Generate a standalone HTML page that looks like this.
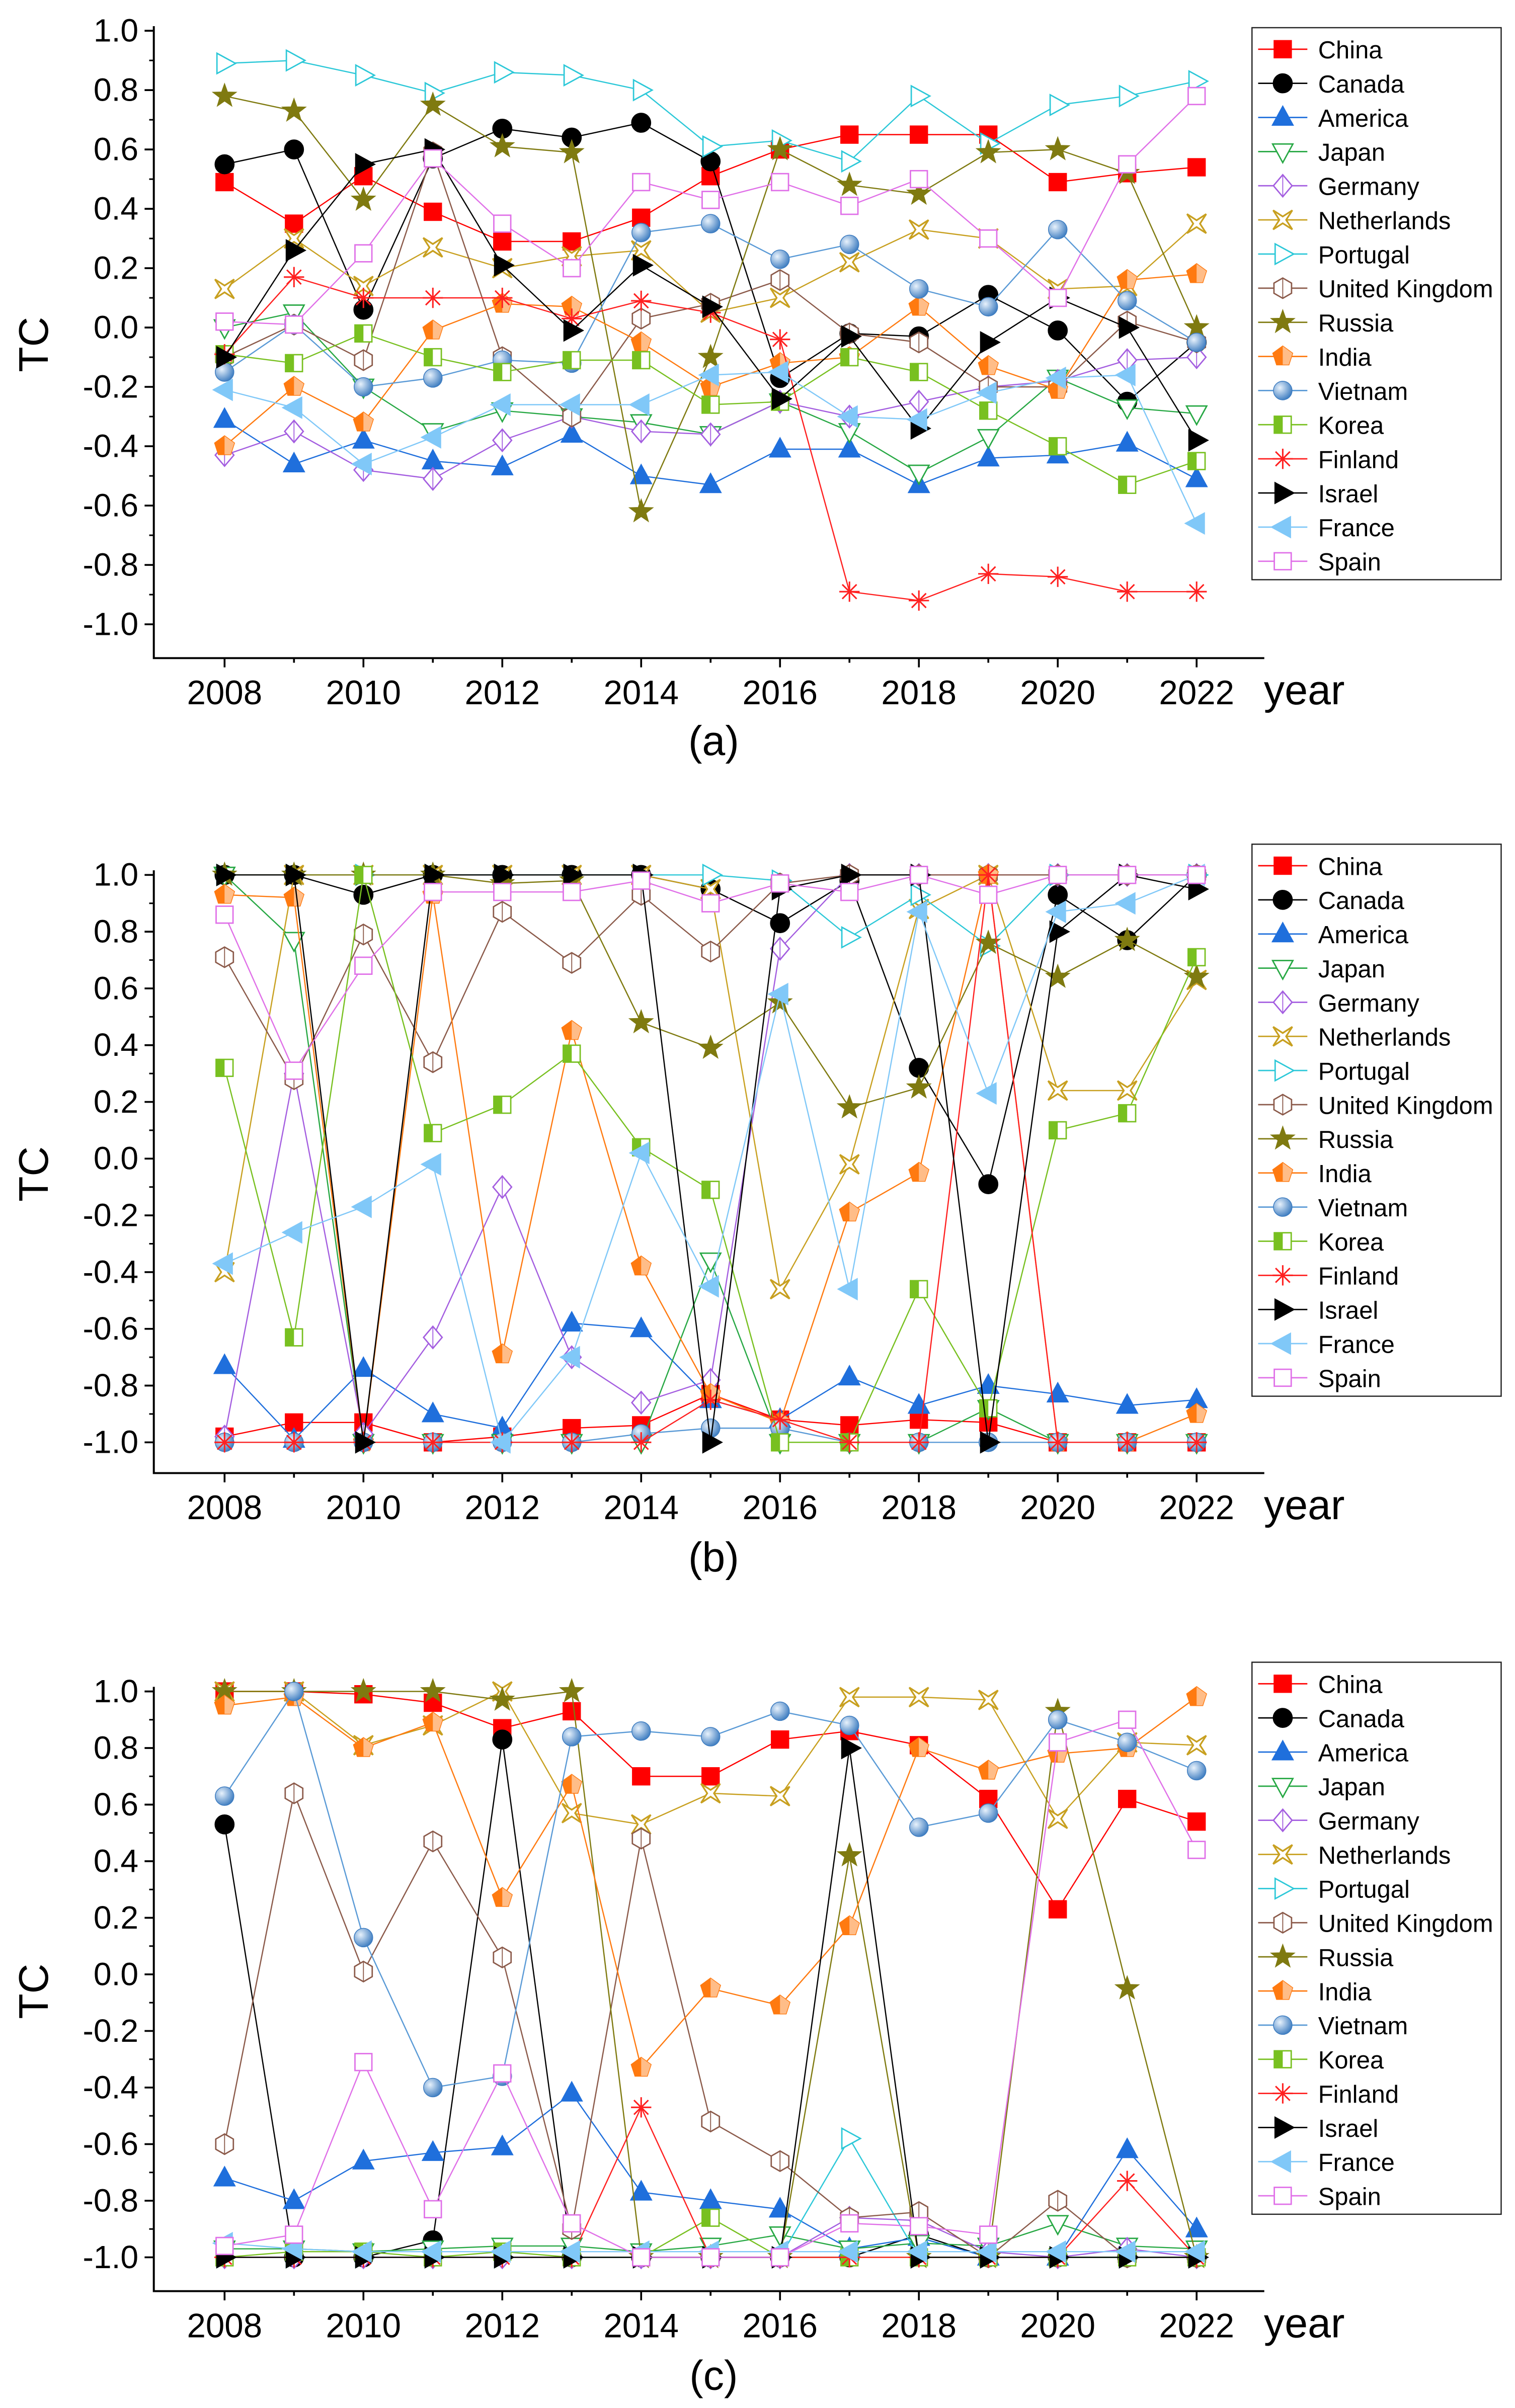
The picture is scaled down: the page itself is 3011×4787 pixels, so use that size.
<!DOCTYPE html>
<html><head><meta charset="utf-8">
<style>
html,body{margin:0;padding:0;background:#fff;}
svg{display:block;font-family:"Liberation Sans",Arial,sans-serif;}
</style></head>
<body>
<svg id="chart" width="3011" height="4787" viewBox="0 0 985 1566" xmlns="http://www.w3.org/2000/svg"></svg>
<script>
const years = [2008,2009,2010,2011,2012,2013,2014,2015,2016,2017,2018,2019,2020,2021,2022];
const seriesNames = ["China","Canada","America","Japan","Germany","Netherlands","Portugal","United Kingdom","Russia","India","Vietnam","Korea","Finland","Israel","France","Spain"];
const yTickLabels = ["1.0","0.8","0.6","0.4","0.2","0.0","-0.2","-0.4","-0.6","-0.8","-1.0"];
const xTickLabels = ["2008","2010","2012","2014","2016","2018","2020","2022"];

const panelA = {
China:[0.49,0.35,0.51,0.39,0.29,0.29,0.37,0.51,0.6,0.65,0.65,0.65,0.49,0.52,0.54],
Canada:[0.55,0.6,0.06,0.57,0.67,0.64,0.69,0.56,-0.17,-0.02,-0.03,0.11,-0.01,-0.25,-0.05],
America:[-0.31,-0.46,-0.38,-0.45,-0.47,-0.36,-0.5,-0.53,-0.41,-0.41,-0.53,-0.44,-0.43,-0.39,-0.51],
Japan:[0.0,0.05,-0.2,-0.35,-0.28,-0.3,-0.32,-0.36,-0.25,-0.35,-0.49,-0.37,-0.17,-0.27,-0.29],
Germany:[-0.43,-0.35,-0.48,-0.51,-0.38,-0.3,-0.35,-0.36,-0.25,-0.3,-0.25,-0.2,-0.18,-0.11,-0.1],
Netherlands:[0.13,0.3,0.14,0.27,0.2,0.24,0.26,0.05,0.1,0.22,0.33,0.3,0.13,0.14,0.35],
Portugal:[0.89,0.9,0.85,0.79,0.86,0.85,0.8,0.61,0.63,0.56,0.78,0.62,0.75,0.78,0.83],
"United Kingdom":[-0.1,0.01,-0.11,0.59,-0.1,-0.3,0.03,0.08,0.16,-0.02,-0.05,-0.2,-0.2,0.02,-0.05],
Russia:[0.78,0.73,0.43,0.75,0.61,0.59,-0.62,-0.1,0.6,0.48,0.45,0.59,0.6,0.52,0.0],
India:[-0.4,-0.2,-0.32,-0.01,0.08,0.07,-0.05,-0.2,-0.12,-0.1,0.07,-0.13,-0.21,0.16,0.18],
Vietnam:[-0.15,0.01,-0.2,-0.17,-0.11,-0.12,0.32,0.35,0.23,0.28,0.13,0.07,0.33,0.09,-0.05],
Korea:[-0.09,-0.12,-0.02,-0.1,-0.15,-0.11,-0.11,-0.26,-0.25,-0.1,-0.15,-0.28,-0.4,-0.53,-0.45],
Finland:[-0.09,0.17,0.1,0.1,0.1,0.03,0.09,0.05,-0.04,-0.89,-0.92,-0.83,-0.84,-0.89,-0.89],
Israel:[-0.1,0.26,0.55,0.6,0.21,-0.01,0.21,0.07,-0.24,-0.03,-0.34,-0.05,0.1,0.0,-0.38],
France:[-0.21,-0.27,-0.46,-0.37,-0.26,-0.26,-0.26,-0.16,-0.15,-0.3,-0.31,-0.22,-0.17,-0.16,-0.66],
Spain:[0.02,0.01,0.25,0.57,0.35,0.2,0.49,0.43,0.49,0.41,0.5,0.3,0.1,0.55,0.78]
};
const panelB = {
China:[-0.98,-0.93,-0.93,-1.0,-0.98,-0.95,-0.94,-0.83,-0.92,-0.94,-0.92,-0.93,-1.0,-1.0,-1.0],
Canada:[1.0,1.0,0.93,1.0,1.0,1.0,1.0,0.95,0.83,0.98,0.32,-0.09,0.93,0.77,1.0],
America:[-0.73,-0.99,-0.74,-0.9,-0.95,-0.58,-0.6,-0.85,-0.92,-0.77,-0.87,-0.8,-0.83,-0.87,-0.85],
Japan:[1.0,0.77,-1.0,-1.0,-1.0,-1.0,-1.0,-0.36,-1.0,-1.0,-1.0,-0.88,-1.0,-1.0,-1.0],
Germany:[-0.98,0.3,-0.97,-0.63,-0.1,-0.7,-0.86,-0.78,0.74,1.0,1.0,1.0,1.0,1.0,1.0],
Netherlands:[-0.4,1.0,1.0,1.0,1.0,1.0,1.0,0.95,-0.46,-0.02,0.88,1.0,0.24,0.24,0.63],
Portugal:[1.0,1.0,1.0,1.0,1.0,1.0,1.0,1.0,0.98,0.78,0.93,0.75,1.0,1.0,1.0],
"United Kingdom":[0.71,0.28,0.79,0.34,0.87,0.69,0.93,0.73,0.97,1.0,1.0,1.0,1.0,1.0,1.0],
Russia:[1.0,1.0,1.0,1.0,0.97,0.98,0.48,0.39,0.55,0.18,0.25,0.76,0.64,0.77,0.64],
India:[0.93,0.92,-1.0,0.93,-0.69,0.45,-0.38,-0.83,-0.93,-0.19,-0.05,1.0,-1.0,-1.0,-0.9],
Vietnam:[-1.0,-1.0,-1.0,-1.0,-1.0,-1.0,-0.97,-0.95,-0.95,-1.0,-1.0,-1.0,-1.0,-1.0,-1.0],
Korea:[0.32,-0.63,1.0,0.09,0.19,0.37,0.04,-0.11,-1.0,-1.0,-0.46,-0.88,0.1,0.16,0.71],
Finland:[-1.0,-1.0,-1.0,-1.0,-1.0,-1.0,-1.0,-0.85,-0.92,-1.0,-1.0,1.0,-1.0,-1.0,-1.0],
Israel:[1.0,1.0,-1.0,1.0,1.0,1.0,1.0,-1.0,0.95,1.0,1.0,-1.0,0.8,1.0,0.95],
France:[-0.37,-0.26,-0.17,-0.02,-1.0,-0.7,0.02,-0.45,0.58,-0.46,0.87,0.23,0.87,0.9,1.0],
Spain:[0.86,0.31,0.68,0.94,0.94,0.94,0.98,0.9,0.97,0.94,1.0,0.93,1.0,1.0,1.0]
};
const panelC = {
China:[1.0,1.0,0.99,0.96,0.87,0.93,0.7,0.7,0.83,0.86,0.81,0.62,0.23,0.62,0.54],
Canada:[0.53,-1.0,-1.0,-0.94,0.83,-1.0,-1.0,-1.0,-1.0,-1.0,-0.92,-1.0,-1.0,-1.0,-1.0],
America:[-0.72,-0.8,-0.66,-0.63,-0.61,-0.42,-0.77,-0.8,-0.83,-0.97,-0.93,-1.0,-1.0,-0.62,-0.9],
Japan:[-0.97,-0.97,-0.98,-0.97,-0.96,-0.96,-0.98,-0.96,-0.92,-0.97,-0.95,-0.96,-0.88,-0.96,-0.97],
Germany:[-1.0,-1.0,-1.0,-1.0,-1.0,-1.0,-1.0,-1.0,-1.0,-0.86,-0.87,-0.98,-1.0,-0.97,-1.0],
Netherlands:[1.0,1.0,0.81,0.88,1.0,0.57,0.53,0.64,0.63,0.98,0.98,0.97,0.55,0.82,0.81],
Portugal:[-1.0,-1.0,-1.0,-1.0,-1.0,-1.0,-1.0,-1.0,-1.0,-0.58,-1.0,-1.0,-1.0,-1.0,-1.0],
"United Kingdom":[-0.6,0.64,0.01,0.47,0.06,-0.9,0.48,-0.52,-0.66,-0.86,-0.84,-1.0,-0.8,-1.0,-1.0],
Russia:[1.0,1.0,1.0,1.0,0.97,1.0,-1.0,-1.0,-1.0,0.42,-1.0,-1.0,0.93,-0.05,-1.0],
India:[0.95,0.98,0.8,0.89,0.27,0.67,-0.33,-0.05,-0.11,0.17,0.8,0.72,0.78,0.8,0.98],
Vietnam:[0.63,1.0,0.13,-0.4,-0.36,0.84,0.86,0.84,0.93,0.88,0.52,0.57,0.9,0.82,0.72],
Korea:[-1.0,-0.98,-0.98,-1.0,-0.98,-1.0,-1.0,-0.86,-1.0,-1.0,-1.0,-1.0,-1.0,-1.0,-1.0],
Finland:[-1.0,-1.0,-1.0,-1.0,-1.0,-1.0,-0.47,-1.0,-1.0,-1.0,-1.0,-1.0,-1.0,-0.73,-1.0],
Israel:[-1.0,-1.0,-1.0,-1.0,-1.0,-1.0,-1.0,-1.0,-1.0,0.8,-1.0,-1.0,-1.0,-1.0,-1.0],
France:[-0.95,-0.97,-0.98,-0.98,-0.98,-0.98,-0.98,-0.98,-0.98,-0.98,-0.98,-0.98,-0.98,-0.98,-0.98],
Spain:[-0.96,-0.92,-0.31,-0.83,-0.35,-0.88,-1.0,-1.0,-1.0,-0.88,-0.89,-0.92,0.82,0.9,0.44]
};

const styles = {
China:{c:"#ff0000",m:"square",f:true},
Canada:{c:"#000000",m:"circle",f:true},
America:{c:"#1f6fdc",m:"tri",f:true},
Japan:{c:"#27a844",m:"tridown",f:false},
Germany:{c:"#a45ee0",m:"diamond",f:false},
Netherlands:{c:"#c8a020",m:"xstar",f:false},
Portugal:{c:"#2cc8d8",m:"triright",f:false},
"United Kingdom":{c:"#8b5a4a",m:"hex",f:false},
Russia:{c:"#7f7a10",m:"star",f:true},
India:{c:"#ff7a10",m:"pent",f:true},
Vietnam:{c:"#5a9ad6",m:"sphere",f:true},
Korea:{c:"#78c020",m:"halfsq",f:true},
Finland:{c:"#ff2020",m:"asterisk",f:false},
Israel:{c:"#000000",m:"triright",f:true},
France:{c:"#80c8f8",m:"trileft",f:true},
Spain:{c:"#e070e8",m:"square",f:false}
};

const NS="http://www.w3.org/2000/svg";
const svg=document.getElementById("chart");
function mk(tag,attrs,parent){const e=document.createElementNS(NS,tag);for(const k in attrs)e.setAttribute(k,attrs[k]);(parent||svg).appendChild(e);return e;}

const defs=mk("defs",{});
const rg=mk("radialGradient",{id:"sph",cx:"0.35",cy:"0.35",r:"0.7"},defs);
mk("stop",{offset:"0","stop-color":"#e8f2fc"},rg);
mk("stop",{offset:"1","stop-color":"#3d7cc0"},rg);

function marker(g,type,x,y,c,filled,s){
  const fill=filled?c:"#fff";
  const sw=0.9;
  let e;
  if(type==="square"){e=mk("rect",{x:x-s,y:y-s,width:2*s,height:2*s,fill:fill,stroke:c,"stroke-width":sw},g);}
  else if(type==="circle"){e=mk("circle",{cx:x,cy:y,r:s*1.1,fill:fill,stroke:c,"stroke-width":sw},g);}
  else if(type==="sphere"){e=mk("circle",{cx:x,cy:y,r:s*1.1,fill:"url(#sph)",stroke:"#3d7cc0","stroke-width":0.5},g);}
  else if(type==="tri"){e=mk("polygon",{points:`${x},${y-s*1.3} ${x+s*1.2},${y+s*0.9} ${x-s*1.2},${y+s*0.9}`,fill:fill,stroke:c,"stroke-width":sw},g);}
  else if(type==="tridown"){e=mk("polygon",{points:`${x},${y+s*1.3} ${x+s*1.2},${y-s*0.9} ${x-s*1.2},${y-s*0.9}`,fill:fill,stroke:c,"stroke-width":sw},g);}
  else if(type==="triright"){e=mk("polygon",{points:`${x+s*1.3},${y} ${x-s*0.9},${y-s*1.2} ${x-s*0.9},${y+s*1.2}`,fill:fill,stroke:c,"stroke-width":sw},g);}
  else if(type==="trileft"){e=mk("polygon",{points:`${x-s*1.3},${y} ${x+s*0.9},${y-s*1.2} ${x+s*0.9},${y+s*1.2}`,fill:fill,stroke:c,"stroke-width":sw},g);}
  else if(type==="diamond"){e=mk("polygon",{points:`${x},${y-s*1.3} ${x+s*1.1},${y} ${x},${y+s*1.3} ${x-s*1.1},${y}`,fill:fill,stroke:c,"stroke-width":sw},g);
    mk("line",{x1:x,y1:y-s*1.3,x2:x,y2:y+s*1.3,stroke:c,"stroke-width":0.6},g);}
  else if(type==="hex"){let p=[];for(let i=0;i<6;i++){const a=Math.PI/2+i*Math.PI/3;p.push((x+s*1.2*Math.cos(a))+","+(y-s*1.2*Math.sin(a)));}
    e=mk("polygon",{points:p.join(" "),fill:fill,stroke:c,"stroke-width":sw},g);
    mk("line",{x1:x,y1:y-s*1.2,x2:x,y2:y+s*1.2,stroke:c,"stroke-width":0.6},g);}
  else if(type==="pent"){let p=[];for(let i=0;i<5;i++){const a=Math.PI/2+i*2*Math.PI/5;p.push((x+s*1.2*Math.cos(a))+","+(y-s*1.2*Math.sin(a)));}
    e=mk("polygon",{points:p.join(" "),fill:fill,stroke:c,"stroke-width":sw},g);
    mk("polygon",{points:`${x},${y-s*1.2} ${x+s*1.14},${y-s*0.37} ${x+s*0.7},${y+s*0.97} ${x},${y+s*0.97}`,fill:"#fff",stroke:"none",opacity:0.5},g);}
  else if(type==="star"){let p=[];for(let i=0;i<10;i++){const r=i%2?s*0.55:s*1.35;const a=Math.PI/2+i*Math.PI/5;p.push((x+r*Math.cos(a))+","+(y-r*Math.sin(a)));}
    e=mk("polygon",{points:p.join(" "),fill:fill,stroke:c,"stroke-width":sw},g);}
  else if(type==="xstar"){let p=[];for(let i=0;i<8;i++){const r=i%2?s*0.4:s*1.6;const a=Math.PI/4+i*Math.PI/4;p.push((x+r*Math.cos(a))+","+(y-r*Math.sin(a)));}
    e=mk("polygon",{points:p.join(" "),fill:"#fff",stroke:c,"stroke-width":1.1},g);}
  else if(type==="halfsq"){e=mk("rect",{x:x-s,y:y-s,width:2*s,height:2*s,fill:"#fff",stroke:c,"stroke-width":sw},g);
    mk("rect",{x:x-s,y:y-s,width:s,height:2*s,fill:c},g);}
  else if(type==="asterisk"){for(let i=0;i<4;i++){const a=i*Math.PI/4;mk("line",{x1:x-s*1.2*Math.cos(a),y1:y-s*1.2*Math.sin(a),x2:x+s*1.2*Math.cos(a),y2:y+s*1.2*Math.sin(a),stroke:c,"stroke-width":1},g);}}
  return e;
}

const panels=[
 {id:"a",data:panelA,top:20,bot:406,axisBot:428,label:"(a)",labelY:493,legTop:18},
 {id:"b",data:panelB,top:569,bot:938,axisBot:958,label:"(b)",labelY:1024,legTop:549},
 {id:"c",data:panelC,top:1100,bot:1468,axisBot:1490,label:"(c)",labelY:1556,legTop:1081}
];
const X0=146, X1=778, AXL=100, AXR=822;

panels.forEach(p=>{
  const g=mk("g",{});
  
  
  const xS=yr=>X0+(yr-2008)*(X1-X0)/14;
  const yS=v=>p.top+(1-v)*(p.bot-p.top)/2;
  const ax=mk("path",{d:`M${AXL},${p.top-3} L${AXL},${p.axisBot} L${AXR},${p.axisBot}`,fill:"none",stroke:"#000","stroke-width":1.3},g);
  
  
  yTickLabels.forEach((t,i)=>{
    const v=parseFloat(t);const y=yS(v);
    mk("line",{x1:AXL-6,y1:y,x2:AXL,y2:y,stroke:"#000","stroke-width":1.2},g);
    if(i<10) mk("line",{x1:AXL-3,y1:yS(v-0.1),x2:AXL,y2:yS(v-0.1),stroke:"#000","stroke-width":1},g);
    const tx=mk("text",{x:AXL-10,y:y+7,"text-anchor":"end","font-size":21},g);tx.textContent=t;
    
    
  });
  for(let yr=2008;yr<=2022;yr++){
    const x=xS(yr);const major=(yr%2===0);
    mk("line",{x1:x,y1:p.axisBot,x2:x,y2:p.axisBot+(major?6:3),stroke:"#000","stroke-width":1.2},g);
  }
  xTickLabels.forEach(t=>{
    const tx=mk("text",{x:xS(+t),y:p.axisBot+30,"text-anchor":"middle","font-size":22},g);tx.textContent=t;
    
    
  });
  const yl=mk("text",{x:848,y:p.axisBot+30,"text-anchor":"middle","font-size":27},g);yl.textContent="year";
  
  
  const ty=(p.top+p.axisBot)/2;
  const tl=mk("text",{x:31,y:ty,"text-anchor":"middle","font-size":27,transform:`rotate(-90 31 ${ty})`},g);tl.textContent="TC";
  
  
  const pl=mk("text",{x:464,y:p.labelY-2,"text-anchor":"middle","font-size":27},g);pl.textContent=p.label;
  
  
  seriesNames.forEach(name=>{
    const st=styles[name];const vals=p.data[name];
    const sg=mk("g",{},g);
    
    
    const pts=vals.map((v,i)=>xS(years[i])+","+yS(v)).join(" ");
    mk("polyline",{points:pts,fill:"none",stroke:st.c,"stroke-width":0.8},sg);
    vals.forEach((v,i)=>{
      const m=marker(sg,st.m,xS(years[i]),yS(v),st.c,st.f,5.5);
      if(m){
      }
    });
  });
  const lg=mk("g",{},g);
  
  
  mk("rect",{x:814,y:p.legTop,width:162,height:359,fill:"#fff",stroke:"#222","stroke-width":0.8},lg);
  seriesNames.forEach((name,i)=>{
    const st=styles[name];const y=p.legTop+14+i*22.2;
    const eg=mk("g",{},lg);
    
    
    mk("line",{x1:818,y1:y,x2:850,y2:y,stroke:st.c,"stroke-width":0.9},eg);
    marker(eg,st.m,834,y,st.c,st.f,5.5);
    const t=mk("text",{x:857,y:y+6,"font-size":16},eg);t.textContent=name;
  });
});
</script>
</body></html>
